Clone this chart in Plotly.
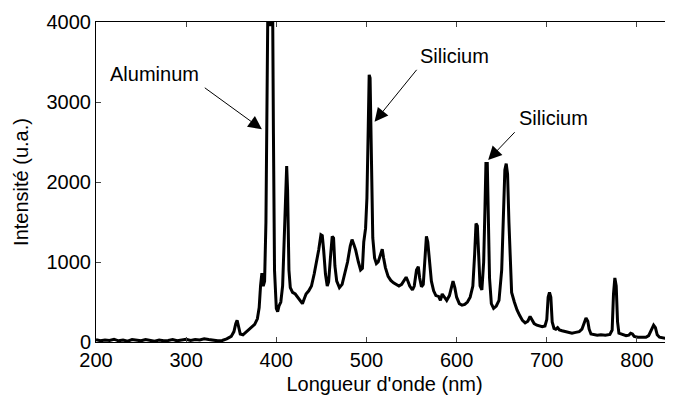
import plotly.graph_objects as go

wavelength = [
    200, 205, 210, 215, 220, 225, 230, 235, 240, 245, 250, 255, 260, 265, 270, 275, 280, 285, 290, 295,
    300, 305, 310, 315, 320, 325, 330, 335, 340, 345, 350, 353, 355, 356.5, 358, 360, 363, 367, 372, 376,
    379, 381, 382.5, 384, 385.5, 387, 388.5, 389.5, 390.5, 391.5, 393, 395, 396, 396.8, 398, 400, 401.5, 403,
    405, 407, 409, 410.5, 411.5, 412.5, 414, 415.5, 418, 421, 424, 427, 429, 431, 433, 436, 439, 442, 445,
    447, 449.5, 451, 452.5, 454.5, 456.5, 458, 460, 462, 463.5, 465, 467, 470, 473, 476, 479, 482, 484, 486,
    488, 491, 493.5, 495.5, 497, 499, 500.5, 502, 503, 504, 505, 506, 507, 509, 511, 513, 515.5, 517.5, 519,
    521, 524, 527, 530, 533, 536, 539, 542, 544, 546, 548, 551, 553, 555.5, 557.5, 559, 561, 563, 565, 566.5,
    568, 570, 572, 574.5, 577, 580, 582, 584, 586.5, 589, 592, 594.5, 596, 598, 600, 603, 606, 609, 612, 615,
    618, 620, 621.5, 623, 624.5, 626, 628, 630, 631.5, 632.5, 634, 635, 636.5, 638.5, 641, 644, 647, 650,
    652, 653.5, 655, 656.5, 658, 659.5, 661, 664, 667, 670, 673, 676, 679, 681.5, 683.5, 686, 689, 692, 695,
    698, 700, 701.5, 703, 704.5, 706, 708, 710, 712, 714, 717, 720, 724, 728, 732, 736, 739, 741, 743.5,
    745.5, 747, 749, 752, 756, 760, 765, 770, 772.5, 774, 775.5, 777, 778.5, 780, 784, 788, 791, 793, 795,
    797, 801, 806, 810, 813, 816, 818.5, 820.5, 822.5, 825, 829, 834, 840,
]

intensity = [
    30, 15, 25, 20, 35, 15, 25, 10, 30, 20, 15, 30, 20, 10, 25, 15, 20, 30, 15, 25,
    35, 20, 30, 25, 40, 30, 20, 15, 20, 40, 70, 130, 230, 270, 200, 100, 90, 130, 170, 220,
    290, 430, 700, 860, 700, 760, 1500, 3000, 4050, 4050, 3950, 4050, 4050, 2600, 900, 420, 380, 450,
    500, 700, 1500, 2100, 2200, 1900, 900, 680, 620, 600, 560, 520, 480, 540, 600, 640, 700, 850, 1020,
    1150, 1340, 1330, 1150, 850, 700, 750, 1050, 1320, 1300, 950, 760, 680, 720, 850, 1000, 1200, 1280, 1220,
    1150, 1000, 900, 920, 1250, 1420, 1800, 2700, 3340, 3300, 2700, 1800, 1300, 1050, 980, 1000, 1100, 1160, 1050,
    930, 820, 770, 740, 720, 700, 720, 780, 810, 760, 700, 650, 700, 900, 940, 800, 690, 720, 1100, 1320,
    1250, 950, 760, 640, 580, 570, 520, 600, 560, 520, 580, 700, 760, 680, 560, 480, 460, 470, 500, 560,
    700, 1100, 1480, 1450, 1100, 700, 650, 1000, 1700, 2230, 2230, 1800, 800, 480, 420, 450, 520, 900,
    1700, 2150, 2230, 2100, 1500, 900, 620, 500, 400, 330, 270, 240, 260, 320, 280, 230, 210, 200, 190,
    200, 280, 560, 620, 560, 250, 170, 160, 180, 150, 140, 130, 120, 110, 120, 130, 160, 220, 300,
    260, 160, 100, 90, 85, 90, 85, 95, 150, 600, 800, 700, 250, 110, 90, 80, 85, 110, 100,
    70, 60, 55, 60, 80, 150, 210, 180, 90, 60, 50, 40, 35,
]

x_ticks = [200, 300, 400, 500, 600, 700, 800]
y_ticks = [0, 1000, 2000, 3000, 4000]

labels = ["Aluminum", "Silicium", "Silicium"]
label_pos = [(265, 3350), (598, 3580), (707, 2806)]
arrow_tail = [(319, 3191), (557, 3421), (666, 2641)]
arrow_tip = [(384, 2659), (509, 2754), (635, 2275)]

FONT = "Liberation Sans, Arial, sans-serif"
FS = 20

fig = go.Figure()
fig.add_trace(go.Scatter(x=wavelength, y=intensity, mode="lines",
                         line=dict(color="black", width=3), showlegend=False))

for lab, (lx, ly) in zip(labels, label_pos):
    fig.add_annotation(x=lx, y=ly, text=lab, showarrow=False, xref="x", yref="y",
                       font=dict(family=FONT, size=FS, color="black"),
                       xanchor="center", yanchor="middle")
for (tx, ty), (hx, hy) in zip(arrow_tail, arrow_tip):
    fig.add_annotation(x=hx, y=hy, ax=tx, ay=ty, xref="x", yref="y", axref="x", ayref="y",
                       text="", showarrow=True, arrowhead=2, arrowsize=2.7, arrowwidth=1,
                       arrowcolor="black", standoff=0, startstandoff=0)

fig.update_layout(
    width=665, height=389,
    margin=dict(l=88, r=0, t=14, b=55),
    paper_bgcolor="white", plot_bgcolor="white",
    font=dict(family=FONT, size=FS, color="black"),
    xaxis=dict(range=[200, 840], tickvals=x_ticks, ticks="inside", ticklen=5,
               showline=True, linecolor="black", linewidth=1, mirror="ticks",
               showgrid=False, zeroline=False, tickfont=dict(size=FS), automargin=False,
               title=dict(text="Longueur d'onde (nm)", font=dict(size=FS), standoff=6)),
    yaxis=dict(range=[0, 4000], tickvals=y_ticks, ticks="inside", ticklen=5,
               showline=True, linecolor="black", linewidth=1, mirror=False,
               showgrid=False, zeroline=False, tickfont=dict(size=FS), automargin=False,
               title=dict(text="Intensité (u.a.)", font=dict(size=FS), standoff=12)),
)

fig.write_html("out.html")
